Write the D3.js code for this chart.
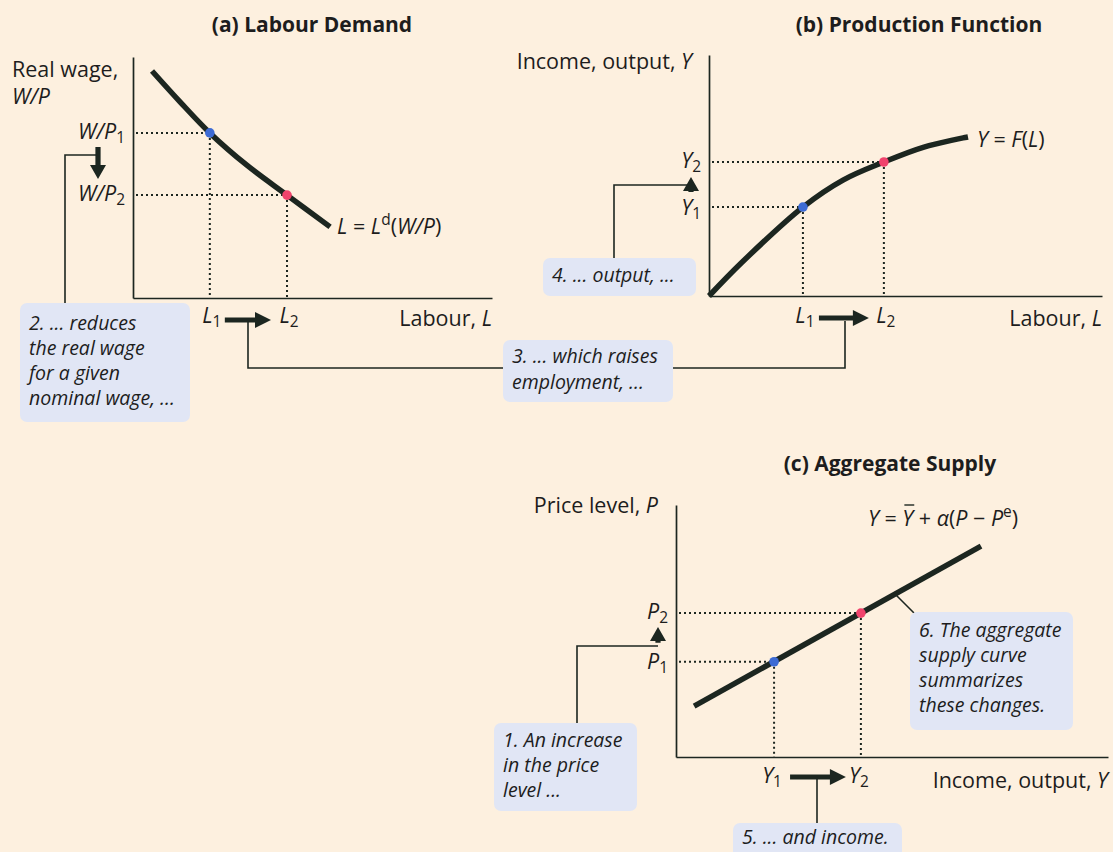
<!DOCTYPE html>
<html>
<head>
<meta charset="utf-8">
<script src="https://cdn.jsdelivr.net/npm/d3@7"></script>
<style>
  html, body { margin: 0; padding: 0; background: #fdf0df; }
  svg { display: block; }
  text { font-family: "Open Sans", "DejaVu Sans", sans-serif; fill: #1d1d1d; }
</style>
</head>
<body>
<svg id="chart" width="1113" height="852"></svg>
<script>
// ---- Panel (a): labour demand curve, L = Ld(W/P) ----
const labourDemandL  = [0.53, 1.31, 2.14, 3.18, 4.29, 5.49];
const labourDemandWP = [9.42, 8.14, 6.85, 5.50, 4.27, 2.95];
const demandPointsL  = [2.14, 4.29];          // L1, L2
const demandPointsWP = [6.85, 4.27];          // W/P1, W/P2

// ---- Panel (b): production function, Y = F(L) ----
const productionL = [0, 0.84, 2.39, 3.41, 4.45, 5.47, 6.59];
const productionY = [0, 1.40, 3.69, 4.81, 5.56, 6.18, 6.60];
const productionPointsL = [2.39, 4.45];       // L1, L2
const productionPointsY = [3.69, 5.56];       // Y1, Y2

// ---- Panel (c): aggregate supply line ----
const supplyY = [0.42, 7.06];
const supplyP = [2.02, 8.37];
const supplyPointsY = [2.27, 4.28];           // Y1, Y2
const supplyPointsP = [3.78, 5.71];           // P1, P2

const pointColors = ["#3d6bd4", "#f0436c"];
const INK = "#1c2620";
const BOX = "#e1e6f5";
const FS = 21.5;

const svg = d3.select("#chart");

// text helper: segments of {t, i (italic), sub, sup}
function richText(g, x, y, segs, opts = {}) {
  const size = opts.size || FS;
  const t = g.append("text")
    .attr("x", x).attr("y", y)
    .attr("font-size", size)
    .attr("font-weight", opts.bold ? 700 : 400)
    .attr("text-anchor", opts.anchor || "start")
    .attr("dominant-baseline", "middle");
  segs.forEach(s => {
    const sp = t.append("tspan").text(s.t);
    if (s.i) sp.attr("font-style", "italic");
    if (s.sub) sp.attr("font-size", size * 0.72).attr("dy", 6);
    if (s.sup) sp.attr("font-size", size * 0.72).attr("dy", -7);
    if (s.back) sp.attr("dy", s.back);
  });
  return t;
}

function noteBox(x, y, w, h, lines, lh, top) {
  const g = svg.append("g");
  g.append("rect").attr("x", x).attr("y", y).attr("width", w).attr("height", h)
    .attr("rx", 7).attr("fill", BOX);
  lines.forEach((ln, k) => {
    g.append("text").attr("x", x + 9).attr("y", y + (top || 21) + k * lh)
      .attr("dominant-baseline", "middle")
      .attr("font-size", 19.5).attr("font-style", "italic").text(ln);
  });
}

function hArrow(x0, x1, y) {
  const head = 16, hw = 8;
  svg.append("path")
    .attr("d", `M${x0},${y - 2.6}H${x1 - head}V${y - hw}L${x1},${y}L${x1 - head},${y + hw}V${y + 2.6}H${x0}Z`)
    .attr("fill", INK);
}
function vArrow(x, y0, y1) {
  // arrow from y0 pointing to y1
  const dir = Math.sign(y1 - y0), head = 14, hw = 8;
  svg.append("path")
    .attr("d", `M${x - 2.6},${y0}V${y1 - dir * head}H${x - hw}L${x},${y1}L${x + hw},${y1 - dir * head}H${x + 2.6}V${y0}Z`)
    .attr("fill", INK);
}
function connector(pts) {
  svg.append("path").attr("d", d3.line()(pts))
    .attr("fill", "none").attr("stroke", INK).attr("stroke-width", 1.6);
}

function drawAxes(x, y) {
  svg.append("g").attr("transform", `translate(0,${y.range()[0]})`)
    .call(d3.axisBottom(x).tickValues([]).tickSizeOuter(0))
    .call(g => g.select(".domain").attr("stroke", INK).attr("stroke-width", 1.7));
  svg.append("g").attr("transform", `translate(${x.range()[0]},0)`)
    .call(d3.axisLeft(y).tickValues([]).tickSizeOuter(0))
    .call(g => g.select(".domain").attr("stroke", INK).attr("stroke-width", 1.7));
}

function guides(x, y, px, py) {
  px.forEach((v, k) => {
    svg.append("path")
      .attr("d", `M${x.range()[0] + 3},${y(py[k])}H${x(v)}M${x(v)},${y(py[k])}V${y.range()[0]}`)
      .attr("fill", "none").attr("stroke", INK).attr("stroke-width", 2)
      .attr("stroke-dasharray", "2,3");
  });
}
function curve(x, y, xs, ys, kind) {
  svg.append("path")
    .datum(xs.map((v, k) => [v, ys[k]]))
    .attr("d", d3.line().x(d => x(d[0])).y(d => y(d[1])).curve(kind || d3.curveLinear))
    .attr("fill", "none").attr("stroke", INK).attr("stroke-width", 5.5)
    .attr("stroke-linecap", "butt");
}
function dots(x, y, px, py) {
  px.forEach((v, k) => {
    svg.append("circle").attr("cx", x(v)).attr("cy", y(py[k])).attr("r", 4.8)
      .attr("fill", pointColors[k]);
  });
}

// ================= (a) Labour Demand =================
{
  const x = d3.scaleLinear().domain([0, 10]).range([133, 492]);
  const y = d3.scaleLinear().domain([0, 10]).range([298, 57]);
  richText(svg, 312, 26, [{ t: "(a) Labour Demand" }], { bold: true, anchor: "middle", size: 21 });
  richText(svg, 12, 71, [{ t: "Real wage," }]);
  richText(svg, 12, 98, [{ t: "W/P", i: true }]);
  drawAxes(x, y);
  guides(x, y, demandPointsL, demandPointsWP);
  curve(x, y, labourDemandL, labourDemandWP, d3.curveCatmullRom);
  dots(x, y, demandPointsL, demandPointsWP);
  demandPointsWP.forEach((v, k) => {
    richText(svg, 125, y(v), [{ t: "W/P", i: true }, { t: String(k + 1), sub: true }], { anchor: "end" });
  });
  demandPointsL.forEach((v, k) => {
    richText(svg, x(v) + 2, 317, [{ t: "L", i: true }, { t: String(k + 1), sub: true }], { anchor: "middle" });
  });
  richText(svg, 492, 320, [{ t: "Labour, " }, { t: "L", i: true }], { anchor: "end" });
  const last = labourDemandL.length - 1;
  richText(svg, x(labourDemandL[last]) + 7, y(labourDemandWP[last]) + 1,
    [{ t: "L", i: true }, { t: " = " }, { t: "L", i: true }, { t: "d", sup: true }, { t: "(", back: 7 }, { t: "W/P", i: true }, { t: ")" }]);
  hArrow(x(demandPointsL[0]) + 15, x(demandPointsL[1]) - 16, 320);
  vArrow(98, y(demandPointsWP[0]) + 14, y(demandPointsWP[1]) - 16);
  connector([[98, 155], [65, 155], [65, 304]]);
  noteBox(20, 303, 170, 119, ["2. ... reduces", "the real wage", "for a given", "nominal wage, ..."], 25, 22);
  connector([[248, 322], [248, 368], [503, 368]]);
}

// ================= (b) Production Function =================
{
  const x = d3.scaleLinear().domain([0, 10]).range([709, 1102]);
  const y = d3.scaleLinear().domain([0, 10]).range([296, 55]);
  richText(svg, 919, 26, [{ t: "(b) Production Function" }], { bold: true, anchor: "middle", size: 21 });
  richText(svg, 692, 63, [{ t: "Income, output, " }, { t: "Y", i: true }], { anchor: "end" });
  drawAxes(x, y);
  guides(x, y, productionPointsL, productionPointsY);
  curve(x, y, productionL, productionY, d3.curveCatmullRom);
  dots(x, y, productionPointsL, productionPointsY);
  productionPointsY.forEach((v, k) => {
    richText(svg, 701, y(v) + (k === 0 ? 2 : 0), [{ t: "Y", i: true }, { t: String(k + 1), sub: true }], { anchor: "end" });
  });
  productionPointsL.forEach((v, k) => {
    richText(svg, x(v) + 2, 317, [{ t: "L", i: true }, { t: String(k + 1), sub: true }], { anchor: "middle" });
  });
  richText(svg, 1102, 320, [{ t: "Labour, " }, { t: "L", i: true }], { anchor: "end" });
  const last = productionL.length - 1;
  richText(svg, x(productionL[last]) + 9, y(productionY[last]) + 4,
    [{ t: "Y", i: true }, { t: " = " }, { t: "F", i: true }, { t: "(" }, { t: "L", i: true }, { t: ")" }]);
  hArrow(x(productionPointsL[0]) + 16, x(productionPointsL[1]) - 15, 318);
  vArrow(691, y(productionPointsY[0]) - 15, y(productionPointsY[1]) + 15);
  connector([[691, 185], [614, 185], [614, 259]]);
  noteBox(543, 258, 153, 38, ["4. ... output, ..."], 25, 19);
  connector([[673, 368], [845, 368], [845, 321]]);
}

noteBox(503, 340, 170, 62, ["3. ... which raises", "employment, ..."], 26, 18);

// ================= (c) Aggregate Supply =================
{
  const x = d3.scaleLinear().domain([0, 10]).range([676, 1108]);
  const y = d3.scaleLinear().domain([0, 10]).range([757, 505]);
  richText(svg, 890, 465, [{ t: "(c) Aggregate Supply" }], { bold: true, anchor: "middle", size: 21 });
  richText(svg, 658, 507, [{ t: "Price level, " }, { t: "P", i: true }], { anchor: "end" });
  drawAxes(x, y);
  guides(x, y, supplyPointsY, supplyPointsP);
  curve(x, y, supplyY, supplyP);
  dots(x, y, supplyPointsY, supplyPointsP);
  supplyPointsP.forEach((v, k) => {
    richText(svg, 668, y(v) + (k === 0 ? 1 : 0), [{ t: "P", i: true }, { t: String(k + 1), sub: true }], { anchor: "end" });
  });
  supplyPointsY.forEach((v, k) => {
    richText(svg, x(v) - 2, 777, [{ t: "Y", i: true }, { t: String(k + 1), sub: true }], { anchor: "middle" });
  });
  richText(svg, 1108, 782, [{ t: "Income, output, " }, { t: "Y", i: true }], { anchor: "end" });
  // Y = Ybar + alpha(P - Pe)
  const f = richText(svg, 868, 520, [{ t: "Y", i: true }, { t: " = " }, { t: "Y", i: true }, { t: " + " },
    { t: "α", i: true }, { t: "(" }, { t: "P", i: true }, { t: " − " }, { t: "P", i: true }, { t: "e", sup: true }, { t: ")", back: 7 }]);
  // overbar on the second Y
  const ybarSpan = f.selectAll("tspan").nodes()[2];
  const start = ybarSpan.getStartPositionOfChar(0).x;
  const end = ybarSpan.getEndPositionOfChar(0).x;
  svg.append("line").attr("x1", start + 2).attr("x2", end + 1).attr("y1", 505).attr("y2", 505)
    .attr("stroke", INK).attr("stroke-width", 1.4);

  hArrow(x(supplyPointsY[0]) + 16, x(supplyPointsY[1]) - 15, 777);
  vArrow(658, y(supplyPointsP[0]) - 19, y(supplyPointsP[1]) + 14);
  connector([[658, 646], [577, 646], [577, 724]]);
  noteBox(494, 723, 143, 88, ["1. An increase", "in the price", "level ..."], 25, 19);
  connector([[817, 779], [817, 823]]);
  noteBox(733, 823, 169, 40, ["5. ... and income."], 25, 16);
  connector([[896, 595], [914, 613]]);
  noteBox(910, 612, 163, 118, ["6. The aggregate", "supply curve", "summarizes", "these changes."], 25, 20);
}
</script>
</body>
</html>
